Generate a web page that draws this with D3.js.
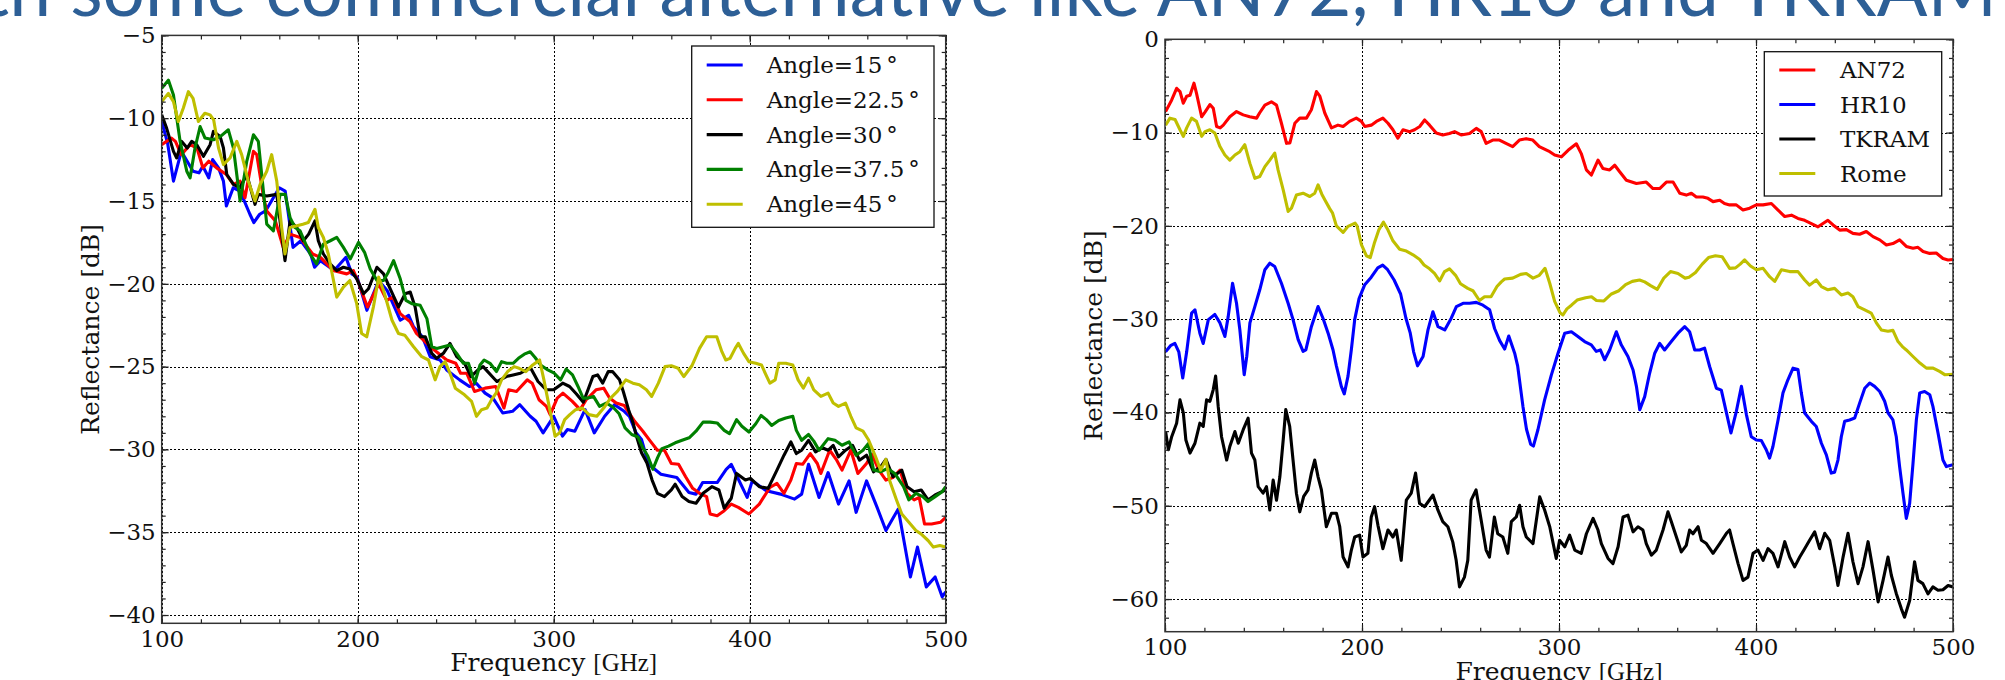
<!DOCTYPE html>
<html>
<head>
<meta charset="utf-8">
<script src="https://cdn.jsdelivr.net/npm/d3@7"></script>
<style>
  html, body { margin: 0; padding: 0; background: #ffffff; }
</style>
</head>
<body>
<svg id="fig" width="2005" height="680"></svg>
<script>
// ---------- Left panel: reflectance vs. frequency at several incidence angles ----------
const angleLabels = ["Angle=15", "Angle=22.5", "Angle=30", "Angle=37.5", "Angle=45"];

const angle15 = [[100,-10.2],[103,-11.5],[106,-13.8],[110,-12.0],[116,-13.2],[119,-13.3],[121,-12.9],[124,-13.6],[126,-12.5],[129,-13.0],[131.5,-13.8],[133,-15.3],[136.5,-14.2],[140,-14.4],[145,-15.8],[147,-16.3],[150,-15.8],[153,-15.6],[160,-14.2],[163,-14.4],[167,-17.8],[171,-17.4],[176,-18.2],[178,-19.0],[181,-18.6],[188,-19.2],[194,-18.4],[197,-19.4],[199.7,-19.6],[204.7,-21.6],[206,-21.2],[210.7,-19.8],[215,-20.4],[221.7,-22.2],[226,-21.9],[228.5,-22.6],[233,-23.2],[237,-24.4],[242,-24.6],[245.4,-25.2],[252,-25.8],[257,-26.2],[260.5,-26.0],[265,-26.6],[269,-26.9],[274,-27.8],[279,-27.7],[282.7,-27.3],[288,-28.0],[291,-28.3],[294.6,-29.0],[300,-28.0],[304.5,-29.2],[307,-28.8],[310.8,-28.9],[316,-27.6],[320.7,-29.0],[326,-28.0],[331,-27.3],[336,-27.7],[338.6,-28.0],[342,-29.0],[344.8,-29.4],[348.4,-30.9],[354.7,-31.5],[359,-31.6],[362.8,-31.7],[369,-32.6],[372.6,-32.7],[376,-32.0],[383.4,-32.0],[388,-31.2],[390.6,-30.9],[393,-31.5],[398.7,-32.9],[401.3,-31.9],[408.5,-32.5],[415.7,-32.7],[422.9,-33.0],[426.5,-32.7],[430,-30.9],[435.4,-32.9],[440,-31.4],[445.3,-33.3],[450.7,-31.9],[454.3,-33.8],[459.6,-31.9],[465,-33.5],[469.5,-34.9],[475.8,-33.6],[482,-37.7],[485.6,-35.9],[490.1,-38.3],[494.6,-37.7],[498.2,-38.9],[500,-38.6]];

const angle22_5 = [[100,-11.6],[105,-11.2],[107,-11.4],[110,-12.2],[114.5,-11.6],[118,-11.8],[121,-13.0],[124,-12.6],[128,-13.0],[133,-13.4],[136.6,-14.0],[140,-13.8],[142.5,-14.8],[146.8,-12.0],[148.5,-12.2],[152,-14.8],[153.6,-15.6],[158,-16.2],[162,-17.8],[165.5,-17.0],[170.6,-17.2],[177,-18.2],[181,-18.4],[187.6,-19.2],[194.4,-19.4],[197.8,-19.2],[200,-19.8],[203.7,-21.0],[205,-21.4],[210.7,-20.0],[214.8,-21.0],[218,-20.8],[221.7,-21.8],[226.8,-22.3],[230,-23.0],[237,-23.8],[245.4,-24.6],[250,-24.8],[252.5,-25.4],[255.6,-25.4],[259.6,-26.5],[265,-26.3],[270.4,-26.2],[274.6,-27.5],[277,-26.4],[281,-26.5],[286.5,-25.8],[289,-26.0],[292.5,-27.0],[296.3,-27.4],[298.2,-27.9],[301.8,-26.9],[304.7,-26.6],[309.5,-27.1],[313.5,-27.6],[316.6,-27.0],[321.6,-26.4],[325.5,-26.3],[328.5,-26.9],[331.9,-27.2],[336,-27.35],[341.3,-28.3],[345.5,-28.9],[349.3,-29.5],[352.9,-30.05],[356.5,-30.05],[360,-30.85],[363.7,-30.9],[367.3,-31.65],[370.9,-32.35],[374.4,-32.65],[378,-32.85],[379.8,-33.9],[383.4,-34.0],[387,-33.7],[390.6,-33.3],[394.2,-33.5],[399.6,-33.9],[404.9,-33.3],[410.3,-32.3],[413.9,-32.05],[417.5,-32.65],[421,-31.85],[423.8,-30.85],[427,-30.9],[430.9,-30.25],[434.5,-30.85],[436.3,-31.45],[440.8,-30.05],[444.4,-30.65],[447.1,-31.25],[451.6,-30.05],[455.2,-31.45],[459.6,-30.85],[462.3,-30.3],[465.9,-31.25],[469.5,-31.85],[473,-31.7],[476.7,-31.25],[480.3,-32.65],[483.9,-33.05],[486.5,-32.9],[489.2,-34.5],[492.8,-34.5],[497.3,-34.4],[500,-34.1]];

const angle30 = [[100,-9.8],[102.5,-10.6],[106,-12.0],[107.6,-12.4],[110.2,-11.4],[113,-11.8],[115.3,-11.4],[117.9,-11.6],[121.3,-12.3],[124.7,-11.6],[126.4,-10.8],[129.8,-11.1],[131.5,-11.8],[133.2,-13.4],[136.6,-14.0],[140,-14.2],[143.4,-13.4],[147.6,-15.2],[149.3,-14.6],[153.6,-14.7],[158.7,-14.6],[161.2,-17.0],[162.9,-18.6],[165.5,-16.2],[168.9,-16.6],[172.3,-17.4],[175,-17.0],[178.2,-16.2],[179.9,-17.4],[182.5,-18.2],[185.9,-18.8],[189.3,-19.2],[192.7,-19.0],[196,-19.1],[199.5,-19.7],[203,-20.6],[205.5,-20.3],[209.8,-19.0],[213.2,-19.4],[216.6,-20.3],[220.8,-21.4],[224.2,-20.6],[226.8,-20.5],[229.3,-21.4],[231.9,-23.2],[234.5,-23.2],[237.8,-24.2],[240.3,-24.5],[243.7,-24.2],[247.1,-23.6],[250.5,-24.4],[254.5,-24.8],[257.8,-25.6],[261.4,-25.2],[264,-25.0],[268.6,-25.6],[271,-25.9],[275.8,-25.6],[279.3,-25.5],[283,-25.4],[286,-25.2],[288.3,-25.1],[292,-25.9],[296.3,-26.4],[300,-26.4],[304.6,-26.0],[308.1,-26.2],[311.6,-26.65],[315.1,-27.15],[317.5,-26.4],[320,-25.6],[322.4,-25.5],[325,-26.0],[327.8,-25.3],[330,-25.3],[333.6,-25.8],[335.5,-26.5],[338.2,-27.6],[340.5,-28.4],[342.2,-29.2],[344.8,-30.2],[347.5,-30.8],[350.2,-31.85],[352.9,-32.65],[356.5,-32.85],[360,-32.45],[362,-32.1],[365.5,-32.85],[369,-33.15],[372.6,-33.25],[376.2,-32.65],[380.7,-32.25],[384.3,-32.45],[387,-33.55],[390.6,-32.95],[393.3,-31.45],[397.8,-31.85],[400.4,-31.75],[404.9,-32.25],[409.4,-32.35],[413.9,-31.25],[417.5,-30.35],[421,-29.55],[423.8,-30.25],[426.5,-30.05],[430,-29.45],[433.6,-30.15],[437,-29.9],[440,-30.05],[442.6,-29.75],[445.3,-30.45],[448.9,-30.05],[452.5,-29.75],[456,-30.65],[459.6,-30.35],[463.2,-31.35],[466.8,-31.05],[469.5,-30.6],[473.1,-31.65],[477.6,-31.25],[480.3,-32.25],[483.9,-32.55],[487.5,-32.45],[491,-33.05],[494.6,-32.75],[500,-32.45]];

const angle37_5 = [[100,-8.2],[103.4,-7.7],[106,-8.6],[109.4,-11.4],[112.8,-13.2],[114.5,-13.6],[117,-11.8],[119.6,-10.5],[122.1,-11.2],[126.4,-11.3],[130,-11.1],[134,-10.7],[136.6,-11.8],[140,-15.0],[143.4,-12.6],[146.8,-11.0],[149.3,-11.4],[153.6,-16.4],[157,-16.8],[160.4,-14.6],[163,-14.6],[165.5,-16.0],[168,-16.6],[170.6,-16.8],[175.7,-18.2],[179,-18.8],[182.5,-17.6],[186,-17.4],[189.3,-17.2],[192.7,-17.8],[196.2,-18.5],[200.4,-17.5],[203.5,-18.1],[206.4,-19.1],[209.8,-19.8],[213.2,-19.8],[215.6,-19.3],[218.3,-18.6],[221.7,-19.7],[224.6,-21.0],[227.6,-21.2],[231.9,-21.3],[235.3,-22.1],[237.8,-23.8],[240.3,-23.9],[243.7,-23.8],[247.1,-23.7],[250.5,-24.2],[253.9,-24.8],[256.5,-24.8],[259.7,-26.0],[262.4,-24.9],[264.5,-24.6],[267.5,-24.8],[270.8,-25.3],[273.4,-24.7],[276,-24.8],[279.3,-24.8],[282,-24.5],[285,-24.25],[288,-24.1],[290.5,-24.45],[293.3,-24.9],[297,-25.2],[300.3,-25.4],[303.5,-25.8],[306.4,-25.15],[309.6,-25.5],[312.4,-26.2],[315,-26.9],[317.5,-26.9],[320.3,-26.8],[323.4,-27.4],[326.8,-27.2],[330.3,-27.45],[333.4,-27.85],[336.4,-28.7],[339.8,-29.1],[343,-29.25],[345.5,-29.9],[348,-30.4],[350.6,-31.2],[353,-30.5],[355.2,-29.95],[358.6,-29.8],[362,-29.6],[365.5,-29.45],[369.1,-29.3],[372.6,-28.9],[376.2,-28.35],[379.8,-28.35],[383.4,-28.4],[387,-28.85],[389.7,-29.05],[393.3,-28.2],[396,-28.6],[399.6,-28.95],[403.1,-28.45],[405.8,-27.95],[408.5,-28.2],[411.2,-28.55],[414.8,-28.25],[418.4,-28.1],[422,-28.0],[423.8,-28.85],[426.5,-29.45],[430,-29.1],[432.7,-29.5],[435.4,-30.05],[440,-29.35],[443.5,-29.45],[447.1,-29.75],[450.7,-29.55],[454.3,-30.35],[457.8,-30.05],[460.5,-29.65],[463.2,-31.25],[466.8,-31.35],[470.4,-31.15],[474,-31.45],[478.5,-32.25],[481.2,-33.05],[484.8,-32.65],[488.3,-32.85],[491,-33.15],[494.6,-32.85],[498.2,-32.55],[500,-32.25]];

const angle45 = [[100,-9.0],[103.4,-8.5],[106,-9.0],[108.5,-10.2],[111,-9.4],[113.6,-8.4],[116,-8.8],[118.7,-10.2],[122,-9.7],[124.7,-9.8],[126.5,-10.1],[129,-11.8],[131.5,-12.8],[134.9,-12.4],[138.3,-11.4],[140.8,-12.2],[144.2,-13.8],[147.6,-15.0],[150.2,-14.0],[153.6,-13.2],[156.1,-12.2],[158.7,-13.8],[161.2,-16.6],[162.9,-18.2],[165.5,-16.6],[168.9,-16.5],[172,-16.4],[174.8,-16.3],[178.2,-15.5],[179.9,-16.6],[182.5,-17.2],[185,-18.2],[189.3,-20.8],[192.7,-20.2],[196,-19.8],[199.5,-21.2],[202,-23.0],[204.6,-23.2],[208,-21.4],[210.7,-19.6],[213.2,-20.4],[217.5,-22.2],[220.8,-23.0],[224,-23.1],[228.5,-23.8],[232.7,-24.4],[236.1,-24.6],[239.5,-25.8],[242,-25.0],[244.6,-24.7],[247.1,-25.4],[249.8,-26.3],[254.5,-26.7],[258.1,-27.1],[260.6,-28.0],[263.2,-27.6],[266,-27.5],[268.3,-27.0],[270.6,-26.6],[273.4,-25.8],[276.5,-25.3],[279.8,-25.0],[282.4,-25.1],[285.8,-25.3],[289.3,-24.9],[292.8,-24.6],[295,-25.8],[298,-27.6],[300.7,-29.2],[303,-29.0],[305.6,-28.2],[308.2,-27.9],[311.2,-27.6],[314.6,-27.5],[318,-27.9],[322,-28.0],[325.5,-27.5],[329,-26.9],[332.5,-26.5],[336.8,-25.8],[340.4,-26.0],[343.7,-26.1],[347.3,-26.4],[350,-26.8],[353.4,-26.0],[356.8,-25.0],[360,-24.95],[363.5,-25.1],[366.4,-25.6],[370.5,-24.95],[374.4,-23.9],[378,-23.2],[383.2,-23.2],[385.8,-24.1],[387.8,-24.6],[390,-24.5],[392.6,-23.9],[394.2,-23.6],[396.9,-24.2],[399.6,-24.7],[403.1,-24.8],[406,-24.9],[408.3,-25.5],[410.3,-26.0],[413,-25.8],[414.8,-24.8],[418.4,-24.8],[422,-24.9],[424.7,-25.8],[427.4,-26.3],[430,-25.7],[432.7,-26.4],[436.3,-26.8],[440,-26.6],[442.6,-27.2],[445.3,-27.4],[448.9,-27.2],[451.6,-28.0],[454.3,-28.7],[457.8,-28.9],[460.5,-29.4],[464.1,-30.4],[466.8,-31.25],[469.5,-30.6],[471.3,-31.85],[474.9,-33.05],[477.6,-33.9],[481.2,-34.4],[484.8,-34.9],[487.4,-35.1],[491,-35.5],[493.7,-35.9],[497,-35.8],[500,-35.9]];

// ---------- Right panel: commercial absorbers ----------
const materialLabels = ["AN72", "HR10", "TKRAM", "Rome"];

const an72 = [[100.3,-7.75],[103.4,-6.5],[105.9,-5.25],[107.6,-5.6],[109.3,-6.85],[111,-6.1],[112.7,-6.0],[114.7,-4.7],[116,-5.8],[118.6,-8.3],[120.3,-7.8],[122.8,-7.0],[124.5,-7.4],[126.2,-9.35],[128,-9.5],[129.6,-9.2],[132.9,-8.3],[136.3,-7.75],[139.7,-8.1],[143,-8.3],[146.5,-8.45],[148,-7.9],[150.7,-7.05],[154,-6.7],[156.6,-7.05],[159.1,-9.0],[161.7,-11.15],[163.4,-11.1],[165.9,-9.0],[168.4,-8.45],[171.8,-8.45],[174.3,-7.55],[176.9,-5.6],[178.6,-6.1],[181.1,-7.9],[184.5,-9.5],[187.8,-9.2],[190.4,-9.35],[193.7,-8.8],[197.1,-8.45],[199.7,-8.8],[201.4,-9.35],[204.7,-9.2],[207.3,-8.8],[210.6,-8.45],[213.2,-9.0],[215.7,-9.7],[218.2,-10.6],[220.8,-9.7],[224.2,-9.9],[226.7,-9.7],[229.3,-9.35],[231.8,-8.65],[234.3,-9.2],[237.7,-10.05],[241,-10.25],[244.4,-10.1],[247,-9.9],[250.3,-10.25],[254.6,-10.1],[258,-9.55],[260.5,-9.9],[263,-11.15],[266.4,-10.8],[269.8,-10.8],[273.1,-11.15],[276.5,-11.5],[279.9,-10.8],[283.3,-10.65],[286.7,-10.8],[290,-11.5],[295.3,-12.05],[297.8,-12.4],[301.2,-12.6],[304.6,-11.9],[308.8,-11.2],[311.3,-12.25],[313.9,-14.0],[316.4,-14.55],[319.8,-12.95],[322.3,-13.85],[325.7,-14.0],[328.3,-13.5],[330.8,-14.2],[334.2,-15.1],[339.3,-15.45],[344.3,-15.3],[347.7,-16.0],[351.1,-16.0],[354.5,-15.3],[357.9,-15.3],[361.3,-16.5],[364.6,-16.7],[367.2,-16.5],[369.7,-16.9],[373,-16.9],[375.6,-17.05],[378.2,-17.4],[381.6,-17.25],[384,-17.6],[386.6,-17.75],[390,-17.75],[393.4,-18.3],[396.8,-18.1],[400.2,-17.75],[403.6,-17.75],[407.8,-17.6],[411.2,-18.3],[414.6,-19.0],[418,-18.85],[421.3,-19.2],[424.7,-19.4],[428.1,-19.75],[431.5,-20.1],[434,-19.75],[436.5,-19.4],[439.1,-19.9],[442.5,-20.45],[445.9,-20.4],[449.2,-20.8],[452.6,-20.9],[456,-20.6],[459.4,-21.15],[462.8,-21.5],[466.2,-22.05],[469.5,-21.9],[472.9,-21.5],[476.3,-22.2],[479.7,-22.4],[482.2,-22.3],[484.8,-22.75],[488.2,-22.95],[491.5,-22.9],[494.9,-23.5],[497.5,-23.65],[500,-23.6]];

const hr10 = [[100.3,-33.5],[103,-32.8],[105,-32.6],[107,-33.5],[109,-36.3],[111,-33.5],[113.5,-29.35],[115.2,-29.0],[117.7,-31.5],[119.4,-32.6],[122,-30.05],[125.3,-29.5],[127.9,-30.4],[130.4,-31.85],[132.1,-29.7],[134.3,-26.15],[136.3,-28.3],[138,-31.15],[140.2,-35.95],[141.5,-34.0],[143.1,-30.4],[145.6,-28.65],[148.1,-26.85],[150.7,-24.7],[153.2,-24.0],[155.7,-24.35],[159.1,-26.15],[162.5,-28.3],[165,-30.05],[167.6,-32.2],[170.1,-33.45],[171.5,-33.3],[174.3,-30.8],[177.7,-28.65],[180.2,-29.9],[182.8,-31.5],[185.3,-33.3],[187,-35.0],[189.5,-37.2],[191,-38.0],[192.9,-36.1],[194.6,-33.25],[196.3,-30.05],[198.5,-27.8],[201.4,-26.3],[204.7,-25.5],[208,-24.5],[210.5,-24.2],[213,-24.7],[216.3,-25.8],[219.6,-27.3],[222.3,-29.9],[224.5,-31.5],[226.2,-33.5],[228.2,-35.0],[231,-34.0],[233.5,-31.15],[236,-29.2],[238.6,-30.8],[242,-31.15],[245.3,-29.9],[247.9,-28.65],[251.3,-28.3],[254.6,-28.3],[258,-28.2],[261.4,-28.5],[264.8,-29.0],[267.3,-31.0],[269.9,-32.3],[272.4,-33.2],[274.5,-31.8],[277.5,-33.65],[279,-35.0],[281.7,-39.35],[283.5,-41.8],[285.6,-43.4],[287,-43.6],[289.3,-41.85],[292.7,-38.65],[296.1,-36.0],[299.5,-33.65],[302.9,-31.5],[306.3,-31.35],[309.6,-31.85],[313,-32.4],[316.4,-32.75],[318.9,-33.45],[321,-33.3],[323.2,-34.35],[325.7,-33.3],[329.1,-31.35],[331.6,-32.75],[335,-34.0],[337.6,-35.45],[339.3,-37.2],[341,-39.7],[343.5,-38.3],[346,-35.8],[348.6,-33.65],[351.1,-32.6],[353.6,-33.3],[357,-32.4],[360.4,-31.5],[363.8,-30.8],[366.3,-31.35],[368.9,-33.3],[371.4,-33.3],[373.9,-33.1],[376.5,-35.1],[379.9,-37.4],[382.4,-37.6],[385,-40.05],[387.3,-42.2],[390,-39.9],[392.6,-37.2],[395.1,-40.2],[397.6,-42.6],[400.2,-42.95],[402.7,-43.0],[405.2,-44.0],[406.9,-44.9],[408.6,-43.65],[411.2,-40.8],[413.7,-37.9],[416.2,-36.5],[418.8,-35.25],[421.3,-35.4],[423,-37.9],[424.7,-40.05],[428.1,-40.95],[430.6,-41.5],[433.2,-43.3],[435.7,-44.55],[438.2,-46.5],[439.9,-46.4],[441.6,-45.1],[443.3,-42.6],[445,-40.95],[447.5,-40.8],[450.1,-40.6],[452.6,-39.0],[455.2,-37.4],[457.7,-36.85],[460.2,-37.2],[462.8,-37.75],[465.3,-38.8],[467,-40.05],[469.5,-40.8],[471.2,-42.6],[472.9,-45.8],[474.6,-48.65],[476.3,-51.35],[478,-49.75],[479.7,-45.45],[481.4,-40.8],[483.1,-37.9],[485.6,-37.75],[488.2,-38.1],[489.8,-39.35],[492.4,-42.2],[494.9,-45.1],[496.6,-45.8],[500,-45.6]];

const tkram = [[100.3,-42.05],[101.7,-44.0],[103.4,-42.6],[105.9,-41.15],[107.6,-38.65],[109.3,-40.05],[110.6,-42.95],[112.7,-44.35],[115.2,-43.3],[117.7,-41.15],[119.4,-41.5],[121.1,-38.65],[122.8,-38.8],[124.5,-37.55],[125.7,-36.1],[127,-39.35],[128.7,-42.6],[131.3,-45.1],[132.9,-43.65],[135.5,-42.05],[137.2,-43.3],[139.7,-41.85],[142.2,-40.6],[143.9,-44.35],[145.6,-45.1],[147.3,-47.95],[149.8,-48.65],[151.5,-47.95],[153.2,-50.45],[154.9,-47.25],[156.6,-49.4],[158.3,-46.9],[160,-42.95],[161.3,-39.7],[163.3,-41.5],[165,-45.1],[166.7,-48.65],[168.4,-50.65],[170.4,-49.0],[172.6,-48.3],[174.3,-46.5],[176,-45.1],[177.7,-46.9],[179.4,-48.3],[181.9,-52.25],[184.5,-50.8],[187,-50.8],[188.7,-52.25],[190.4,-55.5],[192.9,-56.55],[194.6,-54.75],[196.3,-53.35],[198.8,-53.15],[200.5,-55.5],[203,-55.1],[204.7,-51.2],[206.4,-50.1],[208.1,-52.1],[210.6,-54.6],[213.2,-52.6],[215.7,-53.35],[217.4,-52.6],[219.9,-55.85],[222.5,-49.4],[225,-48.65],[227.2,-46.5],[229.2,-49.75],[231.8,-50.1],[233.5,-49.6],[236,-48.85],[238.5,-50.45],[241,-51.7],[243.6,-52.25],[246.1,-53.9],[247.8,-55.85],[249.5,-58.7],[252,-57.65],[253.7,-55.85],[255.4,-49.4],[257.9,-48.3],[260.5,-51.55],[263,-54.75],[264.7,-55.5],[267.2,-51.2],[268.9,-53.0],[271.5,-53.35],[274,-55.1],[275.8,-51.7],[278.3,-51.2],[280,-49.95],[281.7,-52.25],[283.4,-53.35],[286.8,-54.05],[290.2,-49.05],[292.7,-50.45],[295.3,-52.25],[298.6,-55.65],[300.3,-53.7],[302.9,-54.4],[305.4,-53.15],[308,-54.75],[311.3,-55.1],[313.9,-53.0],[317.3,-51.35],[319.8,-52.6],[321.5,-54.05],[324.9,-55.65],[327.4,-56.2],[330,-54.4],[332.5,-51.2],[335,-51.0],[337.6,-52.8],[340.1,-52.25],[342.6,-52.6],[344.3,-54.05],[346.9,-55.3],[349.4,-54.75],[352.8,-52.6],[355.3,-50.65],[357,-51.7],[359.6,-53.35],[362.1,-54.95],[364.6,-54.25],[366.3,-52.6],[368,-53.0],[370.6,-52.25],[372.3,-53.7],[374.8,-54.05],[378.2,-55.1],[381.6,-54.05],[385,-52.95],[386.6,-52.6],[388.3,-54.05],[390.9,-56.2],[393.4,-58.0],[395.9,-57.65],[398.5,-55.1],[401,-54.75],[403.6,-55.85],[406.1,-54.6],[408.6,-55.1],[411.2,-56.55],[414.6,-53.85],[417.1,-55.5],[419.6,-56.55],[422.2,-55.5],[424.7,-54.6],[427.2,-53.7],[429.8,-52.8],[432.3,-54.6],[434.9,-52.95],[437.4,-53.7],[440,-56.55],[441.6,-58.55],[444.2,-55.5],[446.7,-52.95],[449.2,-56.0],[451.8,-58.35],[454.3,-56.55],[456.9,-53.85],[459.4,-56.9],[462,-60.3],[464.5,-58.0],[467,-55.5],[468.7,-57.45],[471.2,-59.4],[473.8,-61.05],[475.4,-61.95],[478,-60.15],[480.5,-56.0],[482.2,-58.0],[484.7,-58.35],[487.3,-59.45],[489.8,-58.7],[492.4,-59.05],[494.9,-59.0],[497.5,-58.55],[500,-58.7]];

const rome = [[100.3,-9.2],[102.5,-8.45],[105.1,-8.6],[107.6,-9.7],[109.3,-10.4],[111,-9.5],[113.5,-8.45],[116,-8.8],[118.6,-10.4],[120.3,-9.9],[122.8,-9.7],[125.3,-10.05],[127.9,-11.5],[130.4,-12.4],[132.9,-12.95],[135.5,-12.4],[138,-12.05],[140.5,-11.3],[143.1,-13.3],[145.6,-14.9],[148.1,-14.7],[150.7,-13.65],[153.2,-12.95],[155.7,-12.2],[157.4,-14.0],[160,-16.15],[162.5,-18.45],[164.2,-18.1],[166.7,-16.7],[170.1,-16.5],[173.5,-16.85],[176,-16.5],[177.7,-15.6],[179.6,-16.6],[181.1,-17.2],[183.6,-18.15],[185,-18.6],[187,-20.0],[190.4,-20.7],[192.9,-20.05],[196.5,-19.7],[197.5,-20.0],[199.7,-22.0],[202.2,-23.2],[204.2,-23.4],[206.2,-21.9],[208.6,-20.4],[210.9,-19.6],[213.2,-20.45],[215.7,-21.6],[219.1,-22.5],[222.5,-22.7],[225.9,-23.1],[229.3,-23.6],[231.5,-24.2],[234.3,-24.6],[236.8,-25.1],[239.4,-25.9],[241.9,-24.9],[244.4,-24.6],[247.5,-25.3],[250,-26.2],[253.7,-26.7],[256.3,-26.95],[259.6,-28.0],[262.2,-27.6],[265.5,-27.6],[268.5,-26.5],[270.7,-26.0],[272.4,-25.7],[276.5,-25.6],[280.5,-25.2],[283.4,-25.1],[286.8,-25.6],[290,-25.3],[292.9,-24.55],[295.3,-26.15],[297.8,-28.1],[300.5,-29.3],[302,-29.55],[304,-28.9],[306.3,-28.5],[309.2,-27.95],[313.5,-27.7],[316.5,-27.6],[319,-28.0],[322.8,-28.05],[326.6,-27.3],[330.4,-26.95],[333.8,-26.3],[337.2,-25.95],[340.9,-25.8],[343.5,-26.0],[346.5,-26.4],[349.9,-26.8],[353.2,-25.6],[356.6,-24.9],[360.4,-25.1],[364,-25.6],[366,-25.5],[369.3,-25.0],[372.7,-24.1],[375.9,-23.4],[379.4,-23.2],[382.8,-23.3],[386.6,-24.55],[389.6,-24.5],[392,-24.1],[394.2,-23.65],[397.2,-24.3],[400.2,-24.7],[403.6,-24.55],[406.9,-25.45],[409.5,-25.95],[412.9,-24.7],[417.1,-24.9],[421.3,-24.9],[424.7,-25.8],[427.2,-26.35],[430.6,-25.8],[433.2,-26.5],[436.5,-26.85],[439.9,-26.7],[443.3,-27.4],[446.7,-27.2],[449.2,-27.6],[451.8,-28.65],[455.2,-29.0],[458.5,-29.35],[461.1,-30.4],[463.6,-31.15],[467,-31.3],[469.5,-31.2],[472.1,-32.4],[474.6,-33.0],[476.3,-33.3],[479.7,-34.0],[483.2,-34.7],[486.5,-35.25],[489.9,-35.25],[493.2,-35.6],[495.8,-35.95],[500,-35.9]];

// ---------- Axis ticks ----------
const freqTicks = [100, 200, 300, 400, 500];
const freqMinorTicks = d3.range(100, 501, 20);
const leftDbTicks = [-40, -35, -30, -25, -20, -15, -10, -5];
const leftDbMinorTicks = d3.range(-40, -4, 1);
const rightDbTicks = [-60, -50, -40, -30, -20, -10, 0];
const rightDbMinorTicks = d3.range(-62, 1, 2);

const titleText = "with some commercial alternative like AN72, HR10 and TKRAM";

// ---------- Drawing ----------
const SERIF = "'DejaVu Serif', serif";
const svg = d3.select("#fig");
const minus = v => (v < 0 ? "\u2212" : "") + Math.abs(v);

// slide heading, running off the top edge
(function drawHeading() {
  const fam = "Lato, 'Open Sans', 'Liberation Sans', sans-serif";
  const probe = svg.append("text").style("font-family", fam).style("font-size", "100px");
  const measure = s => { probe.text(s); return probe.node().getComputedTextLength(); };
  const span = measure("some commercial alternative like AN72, HR10 and ");
  const size = 100 * 1649 / span;
  probe.style("font-size", size + "px");
  const lead = measure("with ");
  probe.remove();
  svg.append("text")
    .attr("x", 51 - lead).attr("y", 16)
    .style("font-family", fam).style("font-size", size + "px")
    .attr("fill", "#2d5f96")
    .text(titleText);
})();

function drawPanel(cfg) {
  const x = d3.scaleLinear().domain([100, 500]).range([cfg.left, cfg.right]);
  const y = d3.scaleLinear().domain(cfg.yDomain).range([cfg.bottom, cfg.top]);
  const g = svg.append("g");
  const W = cfg.right - cfg.left, H = cfg.bottom - cfg.top;

  // dotted grid
  const grid = g.append("g").attr("stroke", "#000").attr("stroke-width", 1)
    .attr("stroke-dasharray", "2,2").attr("shape-rendering", "crispEdges");
  grid.selectAll(".gx").data(freqTicks).join("line")
    .attr("x1", d => Math.round(x(d)) + 0.5).attr("x2", d => Math.round(x(d)) + 0.5)
    .attr("y1", cfg.top).attr("y2", cfg.bottom);
  grid.selectAll(".gy").data(cfg.yTicks).join("line")
    .attr("y1", d => Math.round(y(d)) + 0.5).attr("y2", d => Math.round(y(d)) + 0.5)
    .attr("x1", cfg.left).attr("x2", cfg.right);

  // curves
  const clipId = "clip-" + cfg.id;
  g.append("clipPath").attr("id", clipId).append("rect")
    .attr("x", cfg.left).attr("y", cfg.top).attr("width", W).attr("height", H);
  const line = d3.line().x(d => x(d[0])).y(d => y(d[1]));
  const curves = g.append("g").attr("clip-path", `url(#${clipId})`);
  cfg.series.forEach(s => {
    curves.append("path").datum(s.values).attr("d", line)
      .attr("fill", "none").attr("stroke", s.color).attr("stroke-width", 3.1)
      .attr("stroke-linejoin", "round");
  });

  // axes with inward ticks on all four sides
  const axStyle = sel => {
    sel.select(".domain").remove();
    sel.selectAll(".tick line").attr("stroke", "#222").attr("stroke-width", 1.2);
    sel.selectAll("text").style("font-family", SERIF)
      .style("font-size", "23px").attr("fill", "#111");
  };
  g.append("g").attr("transform", `translate(0,${cfg.bottom})`)
    .call(d3.axisBottom(x).tickValues(freqTicks).tickSize(-7).tickPadding(7).tickFormat(minus))
    .call(axStyle);
  g.append("g").attr("transform", `translate(0,${cfg.bottom})`)
    .call(d3.axisBottom(x).tickValues(freqMinorTicks).tickSize(-4).tickFormat("")).call(axStyle);
  g.append("g").attr("transform", `translate(0,${cfg.top})`)
    .call(d3.axisTop(x).tickValues(freqTicks).tickSize(-7).tickFormat("")).call(axStyle);
  g.append("g").attr("transform", `translate(0,${cfg.top})`)
    .call(d3.axisTop(x).tickValues(freqMinorTicks).tickSize(-4).tickFormat("")).call(axStyle);
  g.append("g").attr("transform", `translate(${cfg.left},0)`)
    .call(d3.axisLeft(y).tickValues(cfg.yTicks).tickSize(-7).tickPadding(6).tickFormat(minus))
    .call(axStyle);
  g.append("g").attr("transform", `translate(${cfg.left},0)`)
    .call(d3.axisLeft(y).tickValues(cfg.yMinor).tickSize(-4).tickFormat("")).call(axStyle);
  g.append("g").attr("transform", `translate(${cfg.right},0)`)
    .call(d3.axisRight(y).tickValues(cfg.yTicks).tickSize(-7).tickFormat("")).call(axStyle);
  g.append("g").attr("transform", `translate(${cfg.right},0)`)
    .call(d3.axisRight(y).tickValues(cfg.yMinor).tickSize(-4).tickFormat("")).call(axStyle);

  // frame
  g.append("rect").attr("x", cfg.left).attr("y", cfg.top).attr("width", W).attr("height", H)
    .attr("fill", "none").attr("stroke", "#333").attr("stroke-width", 1.5);

  // axis titles
  const xt = g.append("text").attr("x", (cfg.left + cfg.right) / 2).attr("y", cfg.bottom + 48)
    .attr("text-anchor", "middle").style("font-family", SERIF).style("font-size", "25px")
    .attr("fill", "#111");
  xt.append("tspan").text("Frequency ");
  xt.append("tspan").style("font-family", "'Liberation Serif', serif").text("[GHz]");
  g.append("text")
    .attr("transform", `translate(${cfg.left - 63},${(cfg.top + cfg.bottom) / 2}) rotate(-90)`)
    .attr("text-anchor", "middle").style("font-family", SERIF).style("font-size", "25px")
    .attr("fill", "#111").text("Reflectance [dB]");

  // legend
  const L = cfg.legend;
  g.append("rect").attr("x", L.x).attr("y", L.y).attr("width", L.w).attr("height", L.h)
    .attr("fill", "#fff").attr("stroke", "#111").attr("stroke-width", 1.3);
  cfg.series.forEach((s, i) => {
    const ry = L.y + L.first + i * L.step;
    g.append("line").attr("x1", L.x + 15).attr("x2", L.x + 51)
      .attr("y1", ry).attr("y2", ry)
      .attr("stroke", s.color).attr("stroke-width", 3.1);
    const t = g.append("text").attr("x", L.x + L.textDx).attr("y", ry + 8)
      .style("font-family", SERIF).style("font-size", "23px").attr("fill", "#111").text(s.label);
    if (s.degree) t.append("tspan").attr("dx", 4).text("\u00b0");
  });
}

drawPanel({
  id: "angles", left: 161.7, right: 945.7, top: 35.4, bottom: 623.3,
  yDomain: [-40.5, -5], yTicks: leftDbTicks, yMinor: leftDbMinorTicks,
  series: [
    { label: angleLabels[0], values: angle15, color: "#0000ff", degree: true },
    { label: angleLabels[1], values: angle22_5, color: "#ff0000", degree: true },
    { label: angleLabels[2], values: angle30, color: "#000000", degree: true },
    { label: angleLabels[3], values: angle37_5, color: "#008000", degree: true },
    { label: angleLabels[4], values: angle45, color: "#bfbf00", degree: true }
  ],
  legend: { x: 691.7, y: 46, w: 242.3, h: 181.3, first: 19, step: 34.8, textDx: 75 }
});

drawPanel({
  id: "materials", left: 1165, right: 1953, top: 39.3, bottom: 631.7,
  yDomain: [-63.5, 0], yTicks: rightDbTicks, yMinor: rightDbMinorTicks,
  series: [
    { label: materialLabels[0], values: an72, color: "#ff0000" },
    { label: materialLabels[1], values: hr10, color: "#0000ff" },
    { label: materialLabels[2], values: tkram, color: "#000000" },
    { label: materialLabels[3], values: rome, color: "#bfbf00" }
  ],
  legend: { x: 1764.3, y: 51.7, w: 177.4, h: 144.3, first: 18.3, step: 34.5, textDx: 75.7 }
});
</script>
</body>
</html>
